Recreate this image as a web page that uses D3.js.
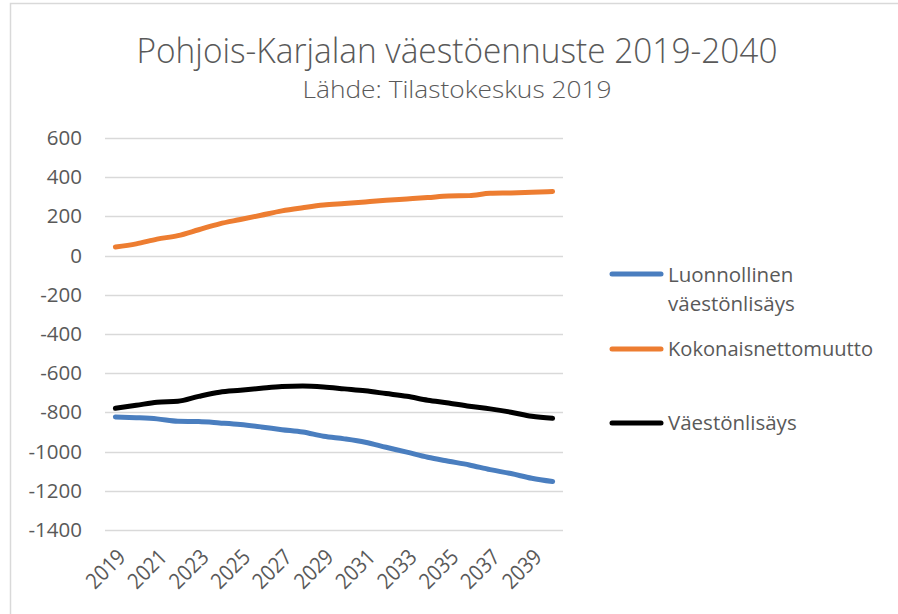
<!DOCTYPE html>
<html><head><meta charset="utf-8">
<script src="https://cdn.jsdelivr.net/npm/d3@7/dist/d3.min.js"></script>
<style>body{margin:0;background:#fff}svg{display:block}text{font-family:"Open Sans",sans-serif;fill:#595959}</style>
</head><body>
<svg id="c" width="898" height="614"></svg>
<script>
const years = [2019,2020,2021,2022,2023,2024,2025,2026,2027,2028,2029,2030,2031,2032,2033,2034,2035,2036,2037,2038,2039,2040];
const luonnollinen = [-823,-827,-833,-845,-847,-854,-862,-874,-888,-900,-922,-935,-952,-978,-1003,-1029,-1049,-1068,-1092,-1112,-1136,-1153];
const nettomuutto = [44,60,84,102,132,162,184,206,228,244,258,266,274,282,289,296,304,306,318,320,323,327];
const vaestonlisays = [-779,-764,-748,-743,-718,-697,-687,-677,-668,-665,-670,-680,-690,-704,-718,-738,-752,-769,-782,-799,-820,-830];
const yTicks = [600,400,200,0,-200,-400,-600,-800,-1000,-1200,-1400];
const xTickLabels = [2019,2021,2023,2025,2027,2029,2031,2033,2035,2037,2039];
const seriesNames = ["Luonnollinen väestönlisäys","Kokonaisnettomuutto","Väestönlisäys"];
const colors = ["#4a7ebf","#ed7d31","#000000"];
const seriesData = [luonnollinen, nettomuutto, vaestonlisays];

const svg = d3.select("#c");
svg.append("path").attr("d","M10.5,614 V3.5 H898").attr("fill","none").attr("stroke","#d9d9d9").attr("stroke-width",1.5);

const x = d3.scaleBand().domain(years).range([105,563]);
const y = d3.scaleLinear().domain([-1400,600]).range([530,138]);
const px = d => x(d) + x.bandwidth()/2;

svg.append("g").selectAll("line").data(yTicks).join("line")
  .attr("x1",105).attr("x2",563).attr("y1",d=>Math.round(y(d))+0.5).attr("y2",d=>Math.round(y(d))+0.5)
  .attr("stroke","#d9d9d9").attr("stroke-width",1.5);

const ya = svg.append("g").attr("transform","translate(105,0)")
  .call(d3.axisLeft(y).tickValues(yTicks).tickSize(0).tickPadding(23).tickFormat(d=>String(d)));
ya.select(".domain").remove();
ya.selectAll("text").style("font-size","20.5px").attr("fill","#595959").style("font-family","Open Sans");

svg.append("g").selectAll("text").data(xTickLabels).join("text")
  .attr("transform",d=>`translate(${px(d)+6},${553}) rotate(-45)`)
  .attr("text-anchor","end").attr("dy","0.35em").style("font-size","22px")
  .attr("textLength",45).attr("lengthAdjust","spacingAndGlyphs").text(d=>d);

const line = d3.line().x((d,i)=>px(years[i])).y(d=>y(d)).curve(d3.curveMonotoneX);
seriesData.forEach((s,k)=>{
  svg.append("path").datum(s).attr("d",line).attr("fill","none").attr("stroke",colors[k])
    .attr("stroke-width",5).attr("stroke-linecap","round").attr("stroke-linejoin","round");
});

svg.append("text").attr("x",457).attr("y",63).attr("text-anchor","middle")
  .style("font-size","35px").style("font-weight","300").attr("textLength",641).attr("lengthAdjust","spacingAndGlyphs")
  .text("Pohjois-Karjalan väestöennuste 2019-2040");
svg.append("text").attr("x",457).attr("y",98).attr("text-anchor","middle")
  .style("font-size","24.5px").style("font-weight","300").attr("textLength",309).attr("lengthAdjust","spacingAndGlyphs")
  .text("Lähde: Tilastokeskus 2019");

const legY = [274,349,423];
const leg = svg.append("g");
seriesNames.forEach((n,k)=>{
  leg.append("line").attr("x1",612).attr("x2",661).attr("y1",legY[k]).attr("y2",legY[k])
    .attr("stroke",colors[k]).attr("stroke-width",5).attr("stroke-linecap","round");
});
const fs = "20.5px";
const t0 = leg.append("text").attr("x",668).attr("y",282).style("font-size",fs);
t0.append("tspan").attr("x",668).text("Luonnollinen");
t0.append("tspan").attr("x",668).attr("dy",29).text("väestönlisäys");
leg.append("text").attr("x",668).attr("y",356).style("font-size",fs).attr("textLength",205).attr("lengthAdjust","spacingAndGlyphs").text(seriesNames[1]);
leg.append("text").attr("x",668).attr("y",430).style("font-size",fs).text(seriesNames[2]);
</script>
</body></html>
